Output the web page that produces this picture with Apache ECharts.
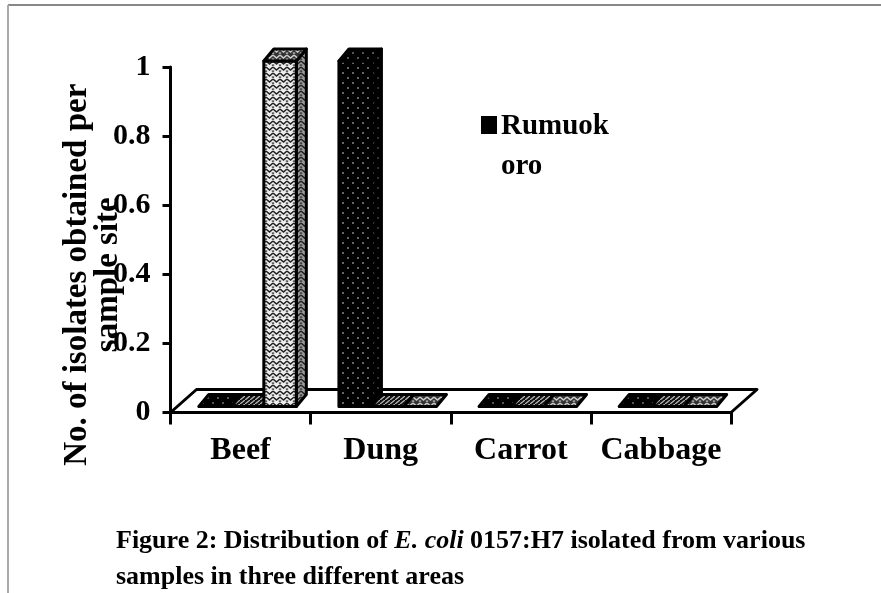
<!DOCTYPE html>
<html><head><meta charset="utf-8">
<style>html,body{margin:0;padding:0;background:#fff}#c{width:881px;height:593px}</style>
<script src="https://cdn.jsdelivr.net/npm/echarts@6/dist/echarts.min.js"></script>
</head><body><div id="c"></div>
<script>
const categories = ['Beef', 'Dung', 'Carrot', 'Cabbage'];
const rumuokoro = [0, 1, 0, 0];
const areaTwo = [0, 0, 0, 0];
const areaThree = [1, 0, 0, 0];
const yTicks = [0, 0.2, 0.4, 0.6, 0.8, 1];
const legendName = 'Rumuok\noro';
const yTitle = 'No. of isolates obtained per\nsample site';
const caption = 'Figure 2: Distribution of {i|E. coli} 0157:H7 isolated from various\nsamples in three different areas';
const SERIF = '"Liberation Serif","Times New Roman",serif';

function pat(w, h, bg, fg, draw) {
  const c = document.createElement('canvas'); c.width = w; c.height = h;
  const g = c.getContext('2d'); g.fillStyle = bg; g.fillRect(0, 0, w, h);
  g.fillStyle = fg; g.strokeStyle = fg; draw(g);
  return { image: c, repeat: 'repeat' };
}
const dots = (bg, fg) => pat(10, 10, bg, fg, g => { g.fillRect(2, 2, 2, 2); g.fillRect(7, 7, 2, 2); });
const weave = (bg, fg) => pat(7, 6, bg, fg, g => {
  g.lineWidth = 1.6; g.beginPath(); g.moveTo(0, 1); g.lineTo(3.5, 4); g.lineTo(7, 1); g.stroke();
  g.fillRect(0, 4.5, 1.2, 1.2); g.fillRect(5.8, 4.5, 1.2, 1.2);
});
const hatch = (bg, fg) => pat(5, 4, bg, fg, g => {
  g.lineWidth = 1.3; g.beginPath(); g.moveTo(0, 4); g.lineTo(5, 0); g.stroke();
});

const styles = [
  { front: dots('#000', '#666'), side: dots('#000', '#333'), top: dots('#000', '#555') },
  { front: hatch('#111', '#bbb'), side: hatch('#111', '#888'), top: hatch('#111', '#bbb') },
  { front: weave('#eee', '#222'), side: weave('#999', '#222'), top: weave('#333', '#ccc') }
];

const BAR_FRACTION = 0.232, SHIFT_X = 7, LIFT = 6, DX = 10, DY = 12;

function barRenderer(seriesIdx) {
  return function (params, api) {
    const cat = api.value(0), val = api.value(1);
    const band = api.size([1, 0])[0];
    const centre = api.coord([cat, 0]);
    const top = api.coord([cat, val]);
    const w = band * BAR_FRACTION;
    const x0 = centre[0] + SHIFT_X + (seriesIdx - 1.5) * w;
    const x1 = x0 + w;
    const yb = centre[1] - LIFT, yt = top[1] - LIFT;
    const st = styles[seriesIdx];
    const line = { stroke: '#000', lineWidth: 3, lineJoin: 'round' };
    const poly = (pts, fill) => ({ type: 'polygon', shape: { points: pts }, style: Object.assign({ fill }, line) });
    const kids = [];
    if (val > 0) {
      kids.push(poly([[x1, yb], [x1 + DX, yb - DY], [x1 + DX, yt - DY], [x1, yt]], st.side));
      kids.push(poly([[x0, yb], [x1, yb], [x1, yt], [x0, yt]], st.front));
    }
    kids.push(poly([[x0, yt], [x1, yt], [x1 + DX, yt - DY], [x0 + DX, yt - DY]], st.top));
    return { type: 'group', children: kids };
  };
}
function floorRenderer(params, api) {
  const a = api.coord([0, 0]);
  const band = api.size([1, 0])[0];
  const l = a[0] - band / 2, r = l + band * categories.length, y = a[1];
  return { type: 'polygon', shape: { points: [[l, y], [r, y], [r + 26, y - 23], [l + 26, y - 23]] },
    style: { fill: '#fff', stroke: '#000', lineWidth: 3, lineJoin: 'round' } };
}
function barData(values) { return values.map((v, i) => [i, v]); }

const chart = echarts.init(document.getElementById('c'), null, { renderer: 'canvas' });
chart.setOption({
  animation: false,
  backgroundColor: '#fff',
  title: {
    text: caption, left: 116, top: 523, padding: 0,
    textStyle: { fontFamily: SERIF, fontSize: 26, fontWeight: 'bold', color: '#000', lineHeight: 36,
      rich: { i: { fontFamily: SERIF, fontSize: 26, fontStyle: 'italic', fontWeight: 'bold', color: '#000', lineHeight: 36 } } }
  },
  legend: {
    data: [legendName], left: 481, top: 107, padding: 0, itemGap: 0, itemWidth: 16, itemHeight: 62,
    icon: 'path://M0 0H16V18H0Z M0 61.9h0.1v0.1h-0.1z',
    selectedMode: false, textStyle: { fontFamily: SERIF, fontSize: 29, fontWeight: 'bold', color: '#000', lineHeight: 40, padding: [0, 0, 0, -1] }
  },
  grid: { left: 170.5, width: 560.5, top: 67, height: 345.5 },
  xAxis: {
    type: 'category', data: categories, z: 5,
    axisLine: { lineStyle: { color: '#000', width: 3 } },
    axisTick: { show: true, interval: 0, length: 12, lineStyle: { color: '#000', width: 3 } },
    axisLabel: { interval: 0, color: '#000', margin: 22, fontFamily: SERIF, fontSize: 32, fontWeight: 'bold' }
  },
  yAxis: {
    type: 'value', min: 0, max: 1, interval: 0.2, z: 5,
    name: yTitle, nameLocation: 'middle', nameRotate: 90, nameGap: 47, nameMoveOverlap: false,
    nameTextStyle: { fontFamily: SERIF, fontSize: 33, fontWeight: 'bold', color: '#000', lineHeight: 31, padding: [0, 70, 0, 0] },
    axisLine: { show: true, lineStyle: { color: '#000', width: 3 } },
    axisTick: { show: true, length: 8, lineStyle: { color: '#000', width: 3 } },
    splitLine: { show: false },
    axisLabel: { color: '#000', margin: 20, fontFamily: SERIF, fontSize: 30, fontWeight: 'bold',
      formatter: v => yTicks.includes(v) ? String(v) : '' }
  },
  graphic: [
    { type: 'line', shape: { x1: 8, y1: 5, x2: 881, y2: 5 }, style: { stroke: '#888', lineWidth: 2 }, silent: true },
    { type: 'line', shape: { x1: 8, y1: 5, x2: 8, y2: 593 }, style: { stroke: '#aaa', lineWidth: 2 }, silent: true }
  ],
  series: [
    { type: 'custom', name: 'floor', data: [[0, 0]], renderItem: floorRenderer, z: 1, silent: true, encode: { x: 0, y: 1 } },
    { type: 'custom', name: legendName, itemStyle: { color: '#000' }, data: barData(rumuokoro), renderItem: barRenderer(0), z: 2, encode: { x: 0, y: 1 } },
    { type: 'custom', name: 'Area 2', itemStyle: { color: '#777' }, data: barData(areaTwo), renderItem: barRenderer(1), z: 3, encode: { x: 0, y: 1 } },
    { type: 'custom', name: 'Area 3', itemStyle: { color: '#ccc' }, data: barData(areaThree), renderItem: barRenderer(2), z: 4, encode: { x: 0, y: 1 } }
  ]
});
</script></body></html>
